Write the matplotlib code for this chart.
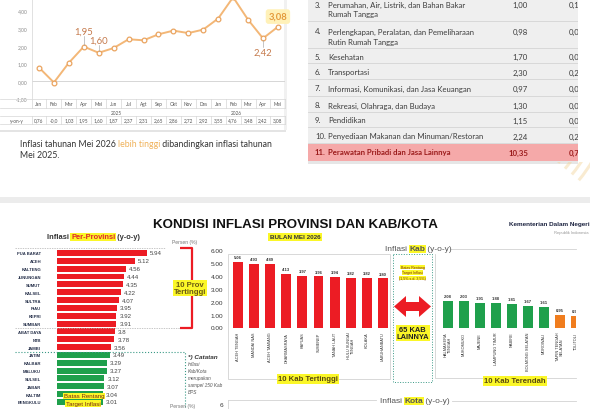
import matplotlib
matplotlib.use("Agg")
import matplotlib.pyplot as plt
from matplotlib import patches

# ---- data ----
months = ["Jan", "Feb", "Mar", "Apr", "Mei", "Jun", "Jul", "Agt", "Sep", "Okt", "Nov", "Des",
          "Jan", "Feb", "Mar", "Apr", "Mei"]
yoy = [0.76, -0.09, 1.03, 1.95, 1.60, 1.87, 2.37, 2.31, 2.65, 2.86, 2.72, 2.92,
       3.55, 4.76, 3.48, 2.42, 3.08]

group_no = ["3.", "4.", "5.", "6.", "7.", "8.", "9.", "10.", "11."]
group_line1 = ["Perumahan, Air, Listrik, dan Bahan Bakar",
               "Perlengkapan, Peralatan, dan Pemeliharaan",
               "Kesehatan", "Transportasi",
               "Informasi, Komunikasi, dan Jasa Keuangan",
               "Rekreasi, Olahraga, dan Budaya", "Pendidikan",
               "Penyediaan Makanan dan Minuman/Restoran",
               "Perawatan Pribadi dan Jasa Lainnya"]
group_line2 = ["Rumah Tangga", "Rutin Rumah Tangga", "", "", "", "", "", "", ""]
group_infl = ["1,00", "0,98", "1,70", "2,30", "0,97", "1,30", "1,15", "2,24", "10,35"]
group_andil = ["0,16", "0,05", "0,05", "0,23", "0,04", "0,03", "0,03", "0,21", "0,70"]

prov_names = ["PUA BARAT", "ACEH", "KALTENG", "JUNUNGAN", "SUMUT", "KALSEL", "SULTRA",
              "RIAU", "KEPRI", "SUMBAR", "ABAT DAYA", "NTB", "JAMBI", "JATIM", "KALBAR",
              "MALUKU", "SULSEL", "JABAR", "KALTIM", "BENGKULU"]
prov_vals = [5.94, 5.12, 4.56, 4.44, 4.35, 4.22, 4.07, 3.95, 3.92, 3.91, 3.8, 3.78,
             3.56, 3.49, 3.29, 3.27, 3.12, 3.07, 3.04, 3.01]
prov_n_red = 13

kab_top_names = ["ACEH TENGAH", "MANDAI NAS", "ACEH TAMIANG", "DHARMASRAYA", "KAPUAS",
                 "SUMENEP", "TANAH LAUT", "HULU SUNGAI\nTENGAH", "KOLAKA", "LABUHANBATU"]
kab_top_vals = [5.06, 4.93, 4.89, 4.13, 3.97, 3.96, 3.94, 3.82, 3.82, 3.80]

kab_low_names = ["HALMAHERA\nTENGAH", "MUKOMUKO", "MAJENE", "LAMPUNG TIMUR", "NABIRE",
                 "BOLMONG SELATAN", "MOROWALI", "TAPIN TENGAH\nSELATAN", "TOLITOLI"]
kab_low_vals = [2.08, 2.03, 1.91, 1.88, 1.81, 1.67, 1.61, 0.95, 0.91]
kab_low_n_green = 7

RED = "#ec1c24"
GREEN = "#1fa04c"
ORANGE = "#f07d1e"
YELLOW = "#fbf728"
TEAL = "#3a9a86"
LINE = "#f3b777"
W, H = 590, 410

fig = plt.figure(figsize=(5.9, 4.1), dpi=100)
fig.patch.set_facecolor("white")


def px_axes(x0, y0, x1, y1, z=1):
    a = fig.add_axes([x0 / W, 1 - y1 / H, (x1 - x0) / W, (y1 - y0) / H], zorder=z)
    a.patch.set_alpha(0)
    return a


bg = px_axes(0, 0, W, H, z=0)
bg.set_xlim(0, W)
bg.set_ylim(H, 0)
bg.axis("off")
ov = px_axes(0, 0, W, H, z=5)
ov.set_xlim(0, W)
ov.set_ylim(H, 0)
ov.axis("off")

TOP = ["Lato", "DejaVu Sans"]
BOT = ["Liberation Sans", "DejaVu Sans"]

# ---------------- top-left: line chart ----------------
bg.add_patch(patches.Rectangle((0, 131), 286, 1.5, fc="#e4e4e4", ec="none"))
bg.add_patch(patches.Rectangle((0, 198), W, 6, fc="#ececec", ec="none"))
bg.add_patch(patches.Rectangle((284, 0), 3, 131, fc="#f1f1f1", ec="none"))

ax = px_axes(31.5, 0, 285.4, 99.5, z=2)
ax.set_xlim(-0.5, 16.5)
ax.set_ylim(-17.5 / 17.6, 82 / 17.6)
ax.axhline(0, color="#d0d0d0", lw=0.6)
ax.plot(range(len(yoy)), yoy, color=LINE, lw=1.4, marker="o", ms=3.4,
        mfc="white", mec="#eaa460", mew=0.9)
ax.set_yticks([-1, 0, 1, 2, 3, 4])
ax.set_yticklabels(["-1,00", "0,00", "1,00", "2,00", "3,00", "4,00"],
                   fontsize=3.6, color="#8a8a8a", family=TOP)
ax.tick_params(axis="y", length=0, pad=3)
ax.set_xticks([])
for s in ["top", "right", "bottom"]:
    ax.spines[s].set_visible(False)
ax.spines["left"].set_color("#dcdcdc")
ax.spines["left"].set_linewidth(0.6)

for i, txt_y in [(3, 1.95 + 0.9), (4, 1.60 + 0.72), (15, 2.42 - 0.78)]:
    ax.text(i, txt_y, f"{yoy[i]:.2f}".replace(".", ","), ha="center", va="center",
            fontsize=6.8, color="#c57a4c", family=TOP)
    up = txt_y > yoy[i]
    ax.plot([i, i], [yoy[i] + (0.12 if up else -0.12), txt_y + (-0.3 if up else 0.3)],
            color="#9a9a9a", lw=0.4)
ax.text(16, 3.08 + 0.58, "3,08", ha="center", va="center", fontsize=6.8, color="#e49a3c",
        family=TOP, fontweight="bold",
        bbox=dict(boxstyle="round,pad=0.3", fc="#fff1b8", ec="none"))

xt = ax.get_xaxis_transform()
for yl in [0, -0.1, -0.176, -0.26]:
    ax.plot([-2.6, 16.5], [yl, yl], color="#d6d6d6", lw=0.5, transform=xt, clip_on=False)
for k in range(-1, 17):
    ax.plot([k + 0.5, k + 0.5], [0, -0.1], color="#d6d6d6", lw=0.5, transform=xt,
            clip_on=False)
    ax.plot([k + 0.5, k + 0.5], [-0.176, -0.26], color="#d6d6d6", lw=0.5, transform=xt,
            clip_on=False)
for i, m in enumerate(months):
    ax.text(i, -0.05, m, ha="center", va="center", fontsize=3.4, color="#555",
            transform=xt, family=TOP)
    ax.text(i, -0.218, f"{yoy[i]:.2f}".replace(".", ",")[:4], ha="center", va="center",
            fontsize=3.4, color="#555", transform=xt, family=TOP)
ax.text(5.2, -0.138, "2025", ha="center", va="center", fontsize=3.4, color="#555",
        transform=xt, family=TOP)
ax.text(13.2, -0.138, "2026", ha="center", va="center", fontsize=3.4, color="#555",
        transform=xt, family=TOP)
ax.text(-1.5, -0.218, "y-on-y", ha="center", va="center", fontsize=3.4, color="#555",
        transform=xt, family=TOP)

r = fig.canvas.get_renderer()


def seq_text(axc, x, y, parts, **kw):
    for s, style in parts:
        t = axc.text(x, y, s, **{**kw, **style})
        bb = t.get_window_extent(renderer=r)
        x += bb.width


seq_text(ov, 20, 145, [("Inflasi tahunan Mei 2026 ", {}),
                       ("lebih tinggi", {"color": "#f0b25a"}),
                       (" dibandingkan inflasi tahunan", {})],
         fontsize=6.3, color="#333", va="center", family=TOP)
ov.text(20, 156, "Mei 2025.", fontsize=6.3, color="#333", va="center", family=TOP)

# ---------------- top-right: table ----------------
tb = px_axes(290, 0, 578, 170, z=1)
tb.set_xlim(290, 578)
tb.set_ylim(170, 0)
tb.axis("off")
tb.add_patch(patches.Rectangle((308, -2), 280, 146, fc="#efefef", ec="none"))
tb.add_patch(patches.Rectangle((308, 145), 280, 16.5, fc="#f5a9a9", ec="none"))
tb.add_patch(patches.Rectangle((308, 161.5), 280, 3, fc="#e6e6e6", ec="none"))
for yl in [22, 49, 64, 80, 97, 113, 128, 144]:
    tb.plot([308, 588], [yl, yl], color="#d4d4d4", lw=0.6)
row_y = [5, 32, 57, 73, 89, 106, 121, 137, 153]
for k, yy in enumerate(row_y):
    last = k == len(row_y) - 1
    c = "#9b1b1b" if last else "#3c3c3c"
    wt = "bold" if last else "normal"
    kw = dict(fontsize=5.6, color=c, fontweight=wt, va="center", family=TOP, clip_on=True)
    tb.text(315, yy, group_no[k], **kw)
    tb.text(328, yy, group_line1[k], **kw)
    if group_line2[k]:
        tb.text(328, yy + 10, group_line2[k], **kw)
    tb.text(528, yy, group_infl[k], ha="right", **kw)
    tb.text(569, yy, group_andil[k], **kw)

# decorative waves under table
dec = px_axes(400, 163, 590, 200, z=1)
dec.set_xlim(400, 590)
dec.set_ylim(200, 163)
dec.axis("off")
for rr in range(70, 150, 9):
    dec.add_patch(patches.Arc((470, 90), 2 * rr, 2 * rr, theta1=-40, theta2=40,
                              color="#f2d49a", lw=2.2, alpha=0.45))

# ---------------- bottom: titles ----------------
ov.text(295, 225, "KONDISI INFLASI PROVINSI DAN KAB/KOTA", ha="center", va="center",
        fontsize=9.6, fontweight="bold", color="#111", family=BOT)
ov.text(295, 238, "BULAN MEI 2026", ha="center", va="center", fontsize=4.6,
        fontweight="bold", color="#333", family=BOT,
        bbox=dict(boxstyle="square,pad=0.2", fc=YELLOW, ec="none"))
ov.text(590, 225, "Kementerian Dalam Negeri", ha="right", va="center", fontsize=4.6,
        fontweight="bold", color="#1c2340", family=BOT)
ov.text(588, 233, "Republik Indonesia", ha="right", va="center", fontsize=3,
        color="#999", family=BOT)

# ---------------- province chart ----------------
pa = px_axes(57, 250.08, 200, 410, z=2)
pa.set_xlim(0, (200 - 57) / 15.15)
pa.set_ylim((410 - 254) / 7.84, -0.5)
pcol = [RED if i < prov_n_red else GREEN for i in range(len(prov_vals))]
pa.barh(range(len(prov_vals)), prov_vals, height=0.76, color=pcol)
for i, v in enumerate(prov_vals):
    pa.text(v + 0.2, i, f"{v:g}", va="center", ha="left", fontsize=4.4, color="#444",
            family=BOT)
pa.set_yticks(range(len(prov_names)))
pa.set_yticklabels(prov_names, fontsize=3, fontweight="bold", color="#26304a", family=BOT)
pa.tick_params(axis="y", length=0, pad=11.5)
pa.set_xticks([])
for s in pa.spines.values():
    s.set_visible(False)

seq_text(ov, 47, 238, [("Inflasi ", {}),
                       ("Per-Provinsi", {"color": "#e0262b",
                                         "bbox": dict(boxstyle="square,pad=0.1",
                                                      fc=YELLOW, ec="none")}),
                       (" (y-o-y)", {})],
         fontsize=5.4, fontweight="bold", color="#333", va="center", family=BOT)
ov.text(185, 243, "Persen (%)", ha="center", va="center", fontsize=3.6, color="#777",
        family=BOT)
# separators
ov.plot([15, 165], [249, 249], color="#b0b0b0", lw=0.5, ls=(0, (2, 1.5)))
ov.plot([15, 185], [328.5, 328.5], color="#b0b0b0", lw=0.5, ls=(0, (2, 1.5)))
ov.plot([15, 185, 185], [353, 353, 412], color=TEAL, lw=0.8, ls=":")
ov.plot([180, 192, 192, 180], [249, 249, 328.5, 328.5], color=RED, lw=1.6,
        solid_capstyle="butt")
ov.text(190, 289, "10 Prov\nTertinggi", ha="center", va="center", fontsize=5.6,
        fontweight="bold", color="#6a5a14", family=BOT, linespacing=1.0,
        bbox=dict(boxstyle="square,pad=0.1", fc=YELLOW, ec="none"))
ov.text(188, 358, "*) Catatan", ha="left", va="center", fontsize=4.6, fontweight="bold",
        style="italic", color="#333", family=BOT)
for k, s in enumerate(["Inflasi", "Kab/Kota", "merupakan", "sampel 150 Kab", "BPS"]):
    ov.text(188, 365 + 7 * k, s, ha="left", va="center", fontsize=3.4, style="italic",
            color="#555", family=BOT)
ov.text(84, 397, "Batas Rentang", ha="center", va="center", fontsize=4.4,
        color="#7a2a10", family=BOT, bbox=dict(boxstyle="square,pad=0.1", fc=YELLOW, ec="none"))
ov.text(83, 404.5, "Target Inflasi", ha="center", va="center", fontsize=4.4,
        color="#7a2a10", family=BOT, bbox=dict(boxstyle="square,pad=0.1", fc=YELLOW, ec="none"))

# ---------------- kab charts ----------------
bg.add_patch(patches.Rectangle((228, 255), 162, 125, fc="none", ec="#d2d2d2", lw=0.6))
ka = px_axes(228, 251, 392, 328.5, z=2)
ka.set_xlim(-0.62, (392 - 238) / 16.1)
ka.set_ylim(0, 6)
ka.bar(range(len(kab_top_vals)), kab_top_vals, width=0.62, color=RED)
for i, v in enumerate(kab_top_vals):
    ka.text(i, v + 0.22, f"{v:.2f}", ha="center", va="bottom", fontsize=3,
            fontweight="bold", color="#333", family=BOT)
ka.set_yticks(range(7))
ka.set_yticklabels([f"{t:.2f}" for t in range(7)], fontsize=4.6, color="#333", family=BOT)
ka.tick_params(axis="y", length=0, pad=3.6)
ka.set_xticks(range(len(kab_top_names)))
ka.set_xticklabels(kab_top_names, rotation=90, fontsize=2.8, color="#333", family=BOT,
                   linespacing=1.0)
ka.tick_params(axis="x", length=0, pad=3)
for s in ka.spines.values():
    s.set_visible(False)

bg.plot([450, 576], [250, 250], color="#d2d2d2", lw=0.6)
bg.plot([435, 435, 576], [255, 379, 379], color="#d2d2d2", lw=0.6)
kb = px_axes(435, 251, 576, 328.5, z=2)
kb.set_xlim(-(448 - 435) / 16.3, (576 - 448) / 16.3)
kb.set_ylim(0, 6)
kcol = [GREEN if i < kab_low_n_green else ORANGE for i in range(len(kab_low_vals))]
kb.bar(range(len(kab_low_vals)), kab_low_vals, width=0.64, color=kcol)
for i, v in enumerate(kab_low_vals):
    kb.text(i, v + 0.22, f"{v:.2f}", ha="center", va="bottom", fontsize=3,
            fontweight="bold", color="#333", family=BOT, clip_on=True)
kb.set_yticks([])
kb.set_xticks(range(len(kab_low_names)))
kb.set_xticklabels(kab_low_names, rotation=90, fontsize=2.8, color="#333", family=BOT,
                   linespacing=1.0)
kb.tick_params(axis="x", length=0, pad=3)
for s in kb.spines.values():
    s.set_visible(False)

ov.text(308, 380, "10 Kab Tertinggi", ha="center", va="center", fontsize=5.6,
        fontweight="bold", color="#5a4a10", family=BOT,
        bbox=dict(boxstyle="square,pad=0.15", fc=YELLOW, ec="none"))
ov.text(515, 382, "10 Kab Terendah", ha="center", va="center", fontsize=5.6,
        fontweight="bold", color="#5a4a10", family=BOT,
        bbox=dict(boxstyle="square,pad=0.15", fc=YELLOW, ec="none"))

# range box with arrow
ov.add_patch(patches.Rectangle((393, 255), 39, 128, fc="none", ec=TEAL, lw=0.7, ls=":"))
for k, s in enumerate(["Batas Rentang", "Target Inflasi", "(1,5% s.d. 3,5%)"]):
    ov.text(412.5, 268 + 5.5 * k, s, ha="center", va="center", fontsize=2.6,
            color="#7a2a10", family=BOT,
            bbox=dict(boxstyle="square,pad=0.05", fc=YELLOW, ec="none"))
ov.add_patch(patches.Polygon([(394, 307.5), (406, 297), (406, 303), (419, 303), (419, 297),
                              (431, 307.5), (419, 318), (419, 312), (406, 312), (406, 318)],
                             closed=True, fc=RED, ec="none"))
ov.text(412.5, 334, "65 KAB\nLAINNYA", ha="center", va="center", fontsize=5.4,
        fontweight="bold", color="#222", family=BOT, linespacing=1.1,
        bbox=dict(boxstyle="square,pad=0.1", fc=YELLOW, ec="none"))

seq_text(ov, 385, 250, [("Inflasi ", {}),
                        ("Kab", {"fontweight": "bold",
                                 "bbox": dict(boxstyle="square,pad=0.1", fc=YELLOW,
                                              ec="none")}),
                        (" (y-o-y)", {})],
         fontsize=6, color="#555", va="center", family=BOT)

# ---------------- kota strip ----------------
bg.plot([228, 376], [400.5, 400.5], color="#d2d2d2", lw=0.6)
bg.plot([228, 228], [400.5, 412], color="#d2d2d2", lw=0.6)
bg.plot([452, 576], [402, 402], color="#d2d2d2", lw=0.6)
seq_text(ov, 380, 402, [("Inflasi ", {}),
                        ("Kota", {"fontweight": "bold",
                                  "bbox": dict(boxstyle="square,pad=0.1", fc=YELLOW,
                                               ec="none")}),
                        (" (y-o-y)", {})],
         fontsize=6, color="#555", va="center", family=BOT)
ov.text(183, 407, "Persen (%)", ha="center", va="center", fontsize=3.6, color="#777",
        family=BOT)
ov.text(221, 406, "6", ha="center", va="center", fontsize=4.6, color="#333", family=BOT)

fig.savefig("out.png", dpi=100)
